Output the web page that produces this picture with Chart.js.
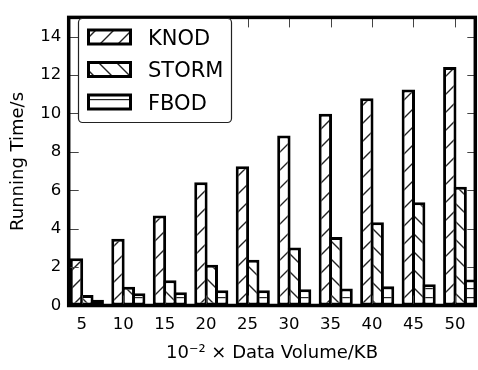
<!DOCTYPE html>
<html>
<head>
<meta charset="utf-8">
<script src="https://cdn.jsdelivr.net/npm/chart.js@4.4.0/dist/chart.umd.min.js"></script>
<style>
  html, body { margin: 0; padding: 0; background: #fff; }
  #wrap { width: 478px; height: 370px; }
</style>
</head>
<body>
<div id="wrap"><canvas id="chart"></canvas></div>
<script>
// Data
const volumes = [5, 10, 15, 20, 25, 30, 35, 40, 45, 50];
const knod = [2.46, 3.47, 4.68, 6.42, 7.25, 8.85, 9.99, 10.79, 11.24, 12.42];
const storm = [0.55, 0.97, 1.31, 2.12, 2.38, 3.02, 3.56, 4.33, 5.37, 6.18];
const fbod = [0.30, 0.64, 0.69, 0.80, 0.80, 0.84, 0.89, 1.00, 1.10, 1.36];
const yTicks = [0, 2, 4, 6, 8, 10, 12, 14];

const FONT = "'DejaVu Sans', sans-serif";

// Helper: build a hatch pattern like matplotlib's '/', '\\' and '-'
function hatch(kind) {
  const s = kind === "-" ? 9 : 18;
  const c = document.createElement("canvas");
  c.width = s;
  c.height = s;
  const g = c.getContext("2d");
  g.fillStyle = "#fff";
  g.fillRect(0, 0, s, s);
  g.strokeStyle = "#222";
  g.lineWidth = 1.4;
  g.beginPath();
  if (kind === "/") {
    g.moveTo(0, s); g.lineTo(s, 0);
    g.moveTo(-1, 1); g.lineTo(1, -1);
    g.moveTo(s - 1, s + 1); g.lineTo(s + 1, s - 1);
  } else if (kind === "\\") {
    g.moveTo(0, 0); g.lineTo(s, s);
    g.moveTo(s - 1, -1); g.lineTo(s + 1, 1);
    g.moveTo(-1, s - 1); g.lineTo(1, s + 1);
  } else {
    g.moveTo(0, 0.5); g.lineTo(s, 0.5);
  }
  g.stroke();
  return g.createPattern(c, "repeat");
}

const series = [
  { label: "KNOD", values: knod, hatch: "/", shift: -0.125 },
  { label: "STORM", values: storm, hatch: "\\", shift: 0.125 },
  { label: "FBOD", values: fbod, hatch: "-", shift: 0.375 },
];

const datasets = series.map((s) => ({
  label: s.label,
  data: s.values.map((v, i) => ({ x: i + s.shift, y: v })),
  backgroundColor: hatch(s.hatch),
  borderColor: "#000",
  borderWidth: 3,
  borderSkipped: false,
  grouped: false,
  categoryPercentage: 1,
  barPercentage: 1.29,
}));

// Frame with inward ticks on all four sides (drawn over the bars)
const framePlugin = {
  id: "frame",
  afterDatasetsDraw(chart) {
    const { ctx, chartArea: a, scales } = chart;
    ctx.save();
    ctx.strokeStyle = "#444";
    ctx.lineWidth = 1;
    ctx.beginPath();
    scales.x.ticks.forEach((t) => {
      const px = Math.round(scales.x.getPixelForValue(t.value)) + 0.5;
      ctx.moveTo(px, a.top); ctx.lineTo(px, a.top + 10);
      ctx.moveTo(px, a.bottom); ctx.lineTo(px, a.bottom - 10);
    });
    scales.y.ticks.forEach((t) => {
      const py = Math.round(scales.y.getPixelForValue(t.value)) + 0.5;
      ctx.moveTo(a.left, py); ctx.lineTo(a.left + 10, py);
      ctx.moveTo(a.right, py); ctx.lineTo(a.right - 8, py);
    });
    ctx.stroke();
    ctx.strokeStyle = "#000";
    ctx.lineWidth = 3.5;
    ctx.strokeRect(a.left, a.top, a.right - a.left, a.bottom - a.top);
    ctx.restore();
  },
};

// Legend box in the upper left of the plot, matplotlib style
const legendPlugin = {
  id: "boxLegend",
  afterDraw(chart) {
    const { ctx } = chart;
    ctx.save();
    ctx.fillStyle = "#fff";
    ctx.strokeStyle = "#222";
    ctx.lineWidth = 1.2;
    ctx.beginPath();
    ctx.roundRect(78.5, 18.5, 153, 104, 4);
    ctx.fill();
    ctx.stroke();
    const rows = [37, 69.5, 102];
    chart.data.datasets.forEach((ds, i) => {
      const cy = rows[i];
      ctx.fillStyle = ds.backgroundColor;
      ctx.fillRect(88.5, cy - 7, 42, 14);
      ctx.strokeStyle = "#000";
      ctx.lineWidth = 3;
      ctx.strokeRect(88.5, cy - 7, 42, 14);
      ctx.fillStyle = "#000";
      ctx.font = "21px " + FONT;
      ctx.textBaseline = "alphabetic";
      ctx.fillText(ds.label, 148, cy + 7.6);
    });
    ctx.restore();
  },
};

new Chart(document.getElementById("chart"), {
  type: "bar",
  data: { datasets },
  options: {
    responsive: true,
    maintainAspectRatio: false,
    animation: false,
    layout: { padding: { top: 7, right: 2.7, left: 0, bottom: 0 } },
    plugins: { legend: { display: false }, tooltip: { enabled: false } },
    scales: {
      x: {
        type: "linear",
        bounds: "data",
        offset: false,
        min: -0.313,
        max: 9.49,
        grid: { display: false, drawTicks: false },
        border: { display: false },
        afterBuildTicks: (axis) => { axis.ticks = volumes.map((v, i) => ({ value: i })); },
        afterFit: (axis) => { axis.height = 64.5; },
        ticks: {
          padding: 9,
          color: "#000",
          font: { family: FONT, size: 16.5 },
          maxRotation: 0,
          autoSkip: false,
          callback: (value) => volumes[value],
        },
        title: {
          display: true,
          text: "10\u207B\u00B2 \u00D7 Data Volume/KB",
          color: "#000",
          font: { family: FONT, size: 18 },
          padding: { top: 7, bottom: 6 },
        },
      },
      y: {
        min: 0,
        max: 15,
        bounds: "data",
        grid: { display: false, drawTicks: false },
        border: { display: false },
        afterBuildTicks: (axis) => { axis.ticks = yTicks.map((v) => ({ value: v })); },
        afterFit: (axis) => { axis.width = 68.7; },
        ticks: {
          padding: 7.5,
          color: "#000",
          font: { family: FONT, size: 16.5 },
        },
        title: {
          display: true,
          text: "Running Time/s",
          color: "#000",
          font: { family: FONT, size: 18 },
          padding: { top: 8, bottom: 7 },
        },
      },
    },
  },
  plugins: [framePlugin, legendPlugin],
});
</script>
</body>
</html>
